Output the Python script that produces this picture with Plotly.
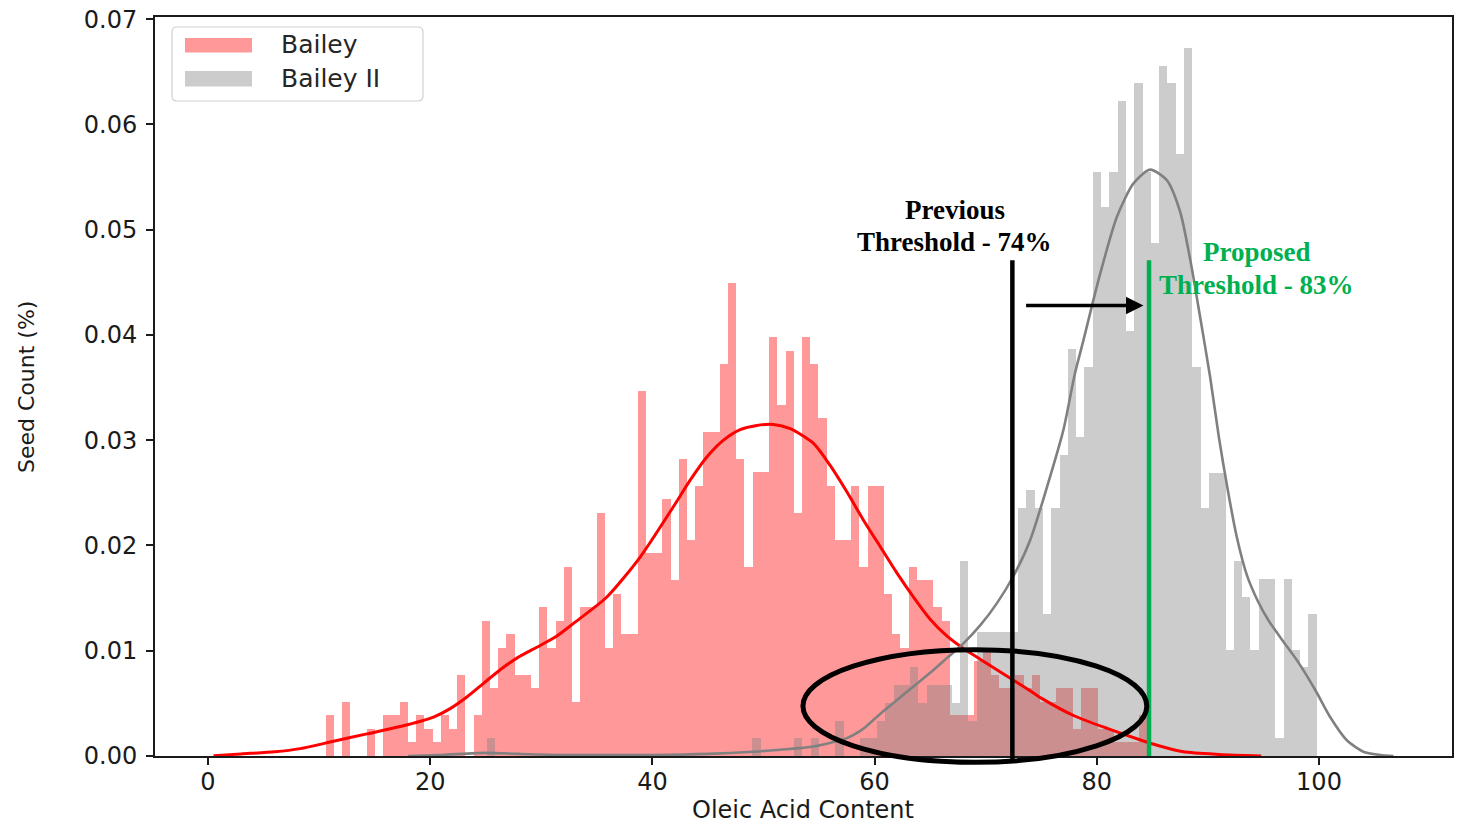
import plotly.graph_objects as go

# ---------------- data ----------------
# Bailey histogram: 100 equal bins, counts per bin
bailey_bin_start = 10.6
bailey_bin_width = 0.739
bailey_counts = [
    3, 0, 4, 0, 0, 2, 0, 3, 3, 4, 1, 3, 2, 1, 3, 2, 6, 0, 3, 10,
    5, 8, 9, 6, 6, 5, 11, 8, 10, 14, 4, 11, 11, 18, 8, 12, 9, 9, 27, 15,
    15, 19, 13, 22, 16, 20, 24, 24, 29, 35, 22, 14, 21, 21, 31, 26, 30, 18, 31, 29,
    25, 20, 16, 16, 20, 14, 20, 20, 12, 9, 8, 14, 13, 13, 11, 10, 3, 3, 3, 7,
    8, 6, 5, 5, 6, 5, 6, 4, 4, 5, 5, 2, 5, 5, 2, 2, 1, 1, 1, 3,
]

# Bailey II histogram: 100 equal bins, counts per bin
bailey2_bin_start = 25.1
bailey2_bin_width = 0.747
bailey2_counts = [
    1, 0, 0, 0, 0, 0, 0, 0, 0, 0, 0, 0, 0, 0, 0, 0, 0, 0, 0, 0,
    0, 0, 0, 0, 0, 0, 0, 0, 0, 0, 0, 0, 1, 0, 0, 0, 0, 1, 0, 1,
    0, 0, 2, 0, 0, 1, 1, 2, 3, 4, 4, 5, 3, 4, 4, 4, 3, 11, 2, 7,
    7, 7, 7, 7, 14, 15, 14, 8, 14, 17, 23, 18, 22, 33, 31, 33, 37, 24, 38, 33,
    29, 39, 38, 34, 40, 22, 14, 16, 16, 6, 11, 9, 6, 10, 10, 1, 10, 6, 5, 8,
]

# KDE curves (density)
bailey_kde_x = [0.5, 3, 6, 8.3, 11.3, 14.3, 17.3, 20.3, 21.8, 23.3, 24.8, 26.3, 27.8,
                29.9, 31.4, 32.9, 35.9, 38.9, 41.9, 43.4, 44.9, 46.4, 47.9, 49.4, 50.9,
                52.4, 54.5, 56.0, 57.5, 59.0, 60.5, 62.0, 63.5, 65.0, 66.5, 68.0, 69.5,
                71.0, 72.5, 74.0, 75.0, 78.0, 81.0, 84.0, 85.5, 87.8, 91.0, 94.8]
bailey_kde_y = [0.00003, 0.0002, 0.0004, 0.0007, 0.0014, 0.0021, 0.0028, 0.0037, 0.0045,
                0.0056, 0.0069, 0.0082, 0.0093, 0.0105, 0.0114, 0.0126, 0.0151, 0.0189,
                0.0237, 0.0262, 0.0284, 0.0300, 0.0310, 0.0314, 0.0315, 0.0311, 0.0297,
                0.0276, 0.0251, 0.0224, 0.0199, 0.0174, 0.0151, 0.0130, 0.0114, 0.0102,
                0.0092, 0.0082, 0.0072, 0.0062, 0.0055, 0.0038, 0.0026, 0.0015, 0.0010,
                0.0004, 0.00015, 0.0]

bailey2_kde_x = [18.0, 21, 25, 28, 32, 40, 45, 49, 51.5, 54.5, 57.5, 59.0, 60.5, 62.0,
                 63.5, 65.0, 66.5, 68.0, 69.5, 71.0, 72.5, 74.0, 75.5, 77.0, 78.0, 78.8,
                 79.5, 80.3, 81.8, 83.3, 84.8, 86.3, 87.5, 88.4, 89.3, 90.2, 91.0, 91.8,
                 92.6, 93.5, 94.5, 95.5, 96.7, 98.2, 99.7, 101.0, 102.5, 104.0, 105.5,
                 106.7]
bailey2_kde_y = [0.0, 0.0001, 0.0003, 0.0002, 0.0001, 0.0001, 0.0002, 0.0004, 0.0006,
                 0.0009, 0.0017, 0.0026, 0.0040, 0.0053, 0.0066, 0.0079, 0.0093, 0.0107,
                 0.0124, 0.0145, 0.0171, 0.0205, 0.0255, 0.0310, 0.0362, 0.0395, 0.0425,
                 0.0458, 0.0512, 0.0544, 0.0557, 0.0547, 0.0517, 0.0472, 0.0417, 0.0360,
                 0.0302, 0.0252, 0.0208, 0.0172, 0.0147, 0.0128, 0.0110, 0.0088, 0.0062,
                 0.0037, 0.0015, 0.0004, 0.0001, 0.0]

x_tick_vals = [0, 20, 40, 60, 80, 100]
y_tick_vals = [0.00, 0.01, 0.02, 0.03, 0.04, 0.05, 0.06, 0.07]

series_names = ["Bailey", "Bailey II"]
x_title = "Oleic Acid Content"
y_title = "Seed Count (%)"

prev_threshold_x = 72.4
proposed_threshold_x = 84.7
threshold_line_top = 0.0471
arrow_y = 0.0428
arrow_from_x = 73.5
arrow_to_x = 84.2
ellipse_x = [53.55, 84.5]
ellipse_y = [-0.0006, 0.0101]
prev_label_lines = ["Previous", "Threshold - 74%"]
prev_label_x = 67.2
prev_label_y = [0.05185, 0.04881]
proposed_label_lines = ["Proposed", "Threshold - 83%"]
proposed_label_x = 94.4
proposed_label_y = [0.04786, 0.04473]

# ---------------- styling / layout ----------------
X_RANGE = [-4.77, 111.97]
Y_RANGE = [0.0, 0.0702]
RED_FILL = "rgba(255,0,0,0.4)"
GRAY_FILL = "rgba(128,128,128,0.4)"
GREEN = "rgb(0,176,80)"
PAGE_W, PAGE_H = 1462, 825
PLOT_L, PLOT_R, PLOT_T, PLOT_B = 155, 1452, 17, 756   # plot area in page pixels
PW, PH = PLOT_R - PLOT_L, PLOT_B - PLOT_T
TEXT = "#1a1a1a"


def hist_centers(start, width, counts):
    return [start + width * (i + 0.5) for i in range(len(counts))]


def density(counts, width):
    total = float(sum(counts))
    return [c / (total * width) for c in counts]


def px(x):  # data x -> paper
    return (x - X_RANGE[0]) / (X_RANGE[1] - X_RANGE[0])


def py(y):  # data y -> paper
    return (y - Y_RANGE[0]) / (Y_RANGE[1] - Y_RANGE[0])


def ppx(page_x):  # page pixel -> paper (layout decorations)
    return (page_x - PLOT_L) / PW


def ppy(page_y):
    return (PLOT_B - page_y) / PH


fig = go.Figure()

fig.add_trace(go.Bar(
    x=hist_centers(bailey_bin_start, bailey_bin_width, bailey_counts),
    y=density(bailey_counts, bailey_bin_width),
    width=bailey_bin_width, marker=dict(color=RED_FILL, line=dict(width=0)),
    name=series_names[0], showlegend=False, hoverinfo="skip"))
fig.add_trace(go.Bar(
    x=hist_centers(bailey2_bin_start, bailey2_bin_width, bailey2_counts),
    y=density(bailey2_counts, bailey2_bin_width),
    width=bailey2_bin_width, marker=dict(color=GRAY_FILL, line=dict(width=0)),
    name=series_names[1], showlegend=False, hoverinfo="skip"))
fig.add_trace(go.Scatter(
    x=bailey_kde_x, y=bailey_kde_y, mode="lines",
    line=dict(color="red", width=3, shape="spline", smoothing=0.7),
    showlegend=False, hoverinfo="skip"))
fig.add_trace(go.Scatter(
    x=bailey2_kde_x, y=bailey2_kde_y, mode="lines",
    line=dict(color="rgb(128,128,128)", width=2.6, shape="spline", smoothing=0.7),
    showlegend=False, hoverinfo="skip"))

shapes = []
shapes.append(dict(type="line", xref="paper", yref="paper",
                   x0=px(prev_threshold_x), x1=px(prev_threshold_x),
                   y0=py(-0.0004), y1=py(threshold_line_top),
                   line=dict(color="black", width=4.5)))
shapes.append(dict(type="line", xref="paper", yref="paper",
                   x0=px(proposed_threshold_x), x1=px(proposed_threshold_x),
                   y0=py(0.0), y1=py(threshold_line_top),
                   line=dict(color=GREEN, width=4.5)))
shapes.append(dict(type="circle", xref="paper", yref="paper",
                   x0=px(ellipse_x[0]), x1=px(ellipse_x[1]),
                   y0=py(ellipse_y[0]), y1=py(ellipse_y[1]),
                   line=dict(color="black", width=5)))

# legend drawn like matplotlib's (wide patches, rounded frame)
bx0, bx1, by0, by1 = ppx(172), ppx(423), ppy(101), ppy(27)
rx, ry = 5 / PW, 5 / PH
legend_path = (f"M{bx0+rx},{by0} L{bx1-rx},{by0} Q{bx1},{by0} {bx1},{by0+ry} "
               f"L{bx1},{by1-ry} Q{bx1},{by1} {bx1-rx},{by1} L{bx0+rx},{by1} "
               f"Q{bx0},{by1} {bx0},{by1-ry} L{bx0},{by0+ry} Q{bx0},{by0} {bx0+rx},{by0} Z")
shapes.append(dict(type="path", xref="paper", yref="paper", path=legend_path,
                   fillcolor="rgba(255,255,255,0.85)", line=dict(color="#d0d0d0", width=1.2)))
shapes.append(dict(type="rect", xref="paper", yref="paper",
                   x0=ppx(185), x1=ppx(252), y0=ppy(52.5), y1=ppy(38),
                   fillcolor=RED_FILL, line=dict(width=0)))
shapes.append(dict(type="rect", xref="paper", yref="paper",
                   x0=ppx(185), x1=ppx(252), y0=ppy(86.5), y1=ppy(71),
                   fillcolor=GRAY_FILL, line=dict(width=0)))

legend_font = dict(family="DejaVu Sans", size=25, color="#262626")
label_font = dict(family="Liberation Serif", size=27, color="black", weight="bold")
annotations = [
    dict(text=series_names[0], xref="paper", yref="paper", x=ppx(279), y=ppy(45),
         xanchor="left", yanchor="middle", showarrow=False, font=legend_font),
    dict(text=series_names[1], xref="paper", yref="paper", x=ppx(279), y=ppy(79),
         xanchor="left", yanchor="middle", showarrow=False, font=legend_font),
    dict(text=x_title, xref="paper", yref="paper", x=ppx(803), y=ppy(810),
         xanchor="center", yanchor="middle", showarrow=False,
         font=dict(family="DejaVu Sans", size=24, color=TEXT)),
    dict(text=y_title, xref="paper", yref="paper", x=ppx(26), y=ppy(387),
         xanchor="center", yanchor="middle", showarrow=False, textangle=-90,
         font=dict(family="DejaVu Sans", size=22, color=TEXT)),
    dict(text="", x=arrow_to_x, y=arrow_y, ax=arrow_from_x, ay=arrow_y,
         xref="x", yref="y", axref="x", ayref="y", showarrow=True,
         arrowhead=2, arrowsize=1.0, arrowwidth=3.5, arrowcolor="black"),
]
for line_text, yy in zip(prev_label_lines, prev_label_y):
    annotations.append(dict(text=line_text, x=prev_label_x, y=yy, xref="x", yref="y",
                            showarrow=False, xanchor="center", yanchor="middle",
                            font=label_font))
for line_text, yy in zip(proposed_label_lines, proposed_label_y):
    annotations.append(dict(text=line_text, x=proposed_label_x, y=yy, xref="x", yref="y",
                            showarrow=False, xanchor="center", yanchor="middle",
                            font=dict(label_font, color=GREEN)))

fig.update_layout(
    width=PAGE_W, height=PAGE_H,
    margin=dict(l=PLOT_L, r=PAGE_W - PLOT_R, t=PLOT_T, b=PAGE_H - PLOT_B,
                autoexpand=False),
    paper_bgcolor="white", plot_bgcolor="white",
    barmode="overlay", bargap=0,
    shapes=shapes, annotations=annotations,
    showlegend=False, hovermode=False,
    font=dict(family="DejaVu Sans", color=TEXT),
)
fig.update_xaxes(
    range=X_RANGE, tickvals=x_tick_vals, ticktext=[str(v) for v in x_tick_vals],
    showgrid=False, zeroline=False, showline=True, mirror=True, automargin=False,
    linecolor=TEXT, linewidth=2, ticks="outside", ticklen=7, tickwidth=2,
    ticklabelstandoff=-4, ticklabeloverflow="allow",
    tickcolor=TEXT, tickfont=dict(size=24, family="DejaVu Sans", color=TEXT),
)
fig.update_yaxes(
    range=Y_RANGE, tickvals=y_tick_vals, ticktext=[f"{v:.2f}" for v in y_tick_vals],
    showgrid=False, zeroline=False, showline=True, mirror=True, automargin=False,
    linecolor=TEXT, linewidth=2, ticks="outside", ticklen=7, tickwidth=2,
    ticklabelstandoff=4, ticklabeloverflow="allow",
    tickcolor=TEXT, tickfont=dict(size=24, family="DejaVu Sans", color=TEXT),
)

# remove the page's default body margin so the figure fills the window exactly
fig.write_html("out.html", config={"displayModeBar": False, "staticPlot": True},
               post_script="document.body.style.margin='0px'; document.body.style.overflow='hidden';")
